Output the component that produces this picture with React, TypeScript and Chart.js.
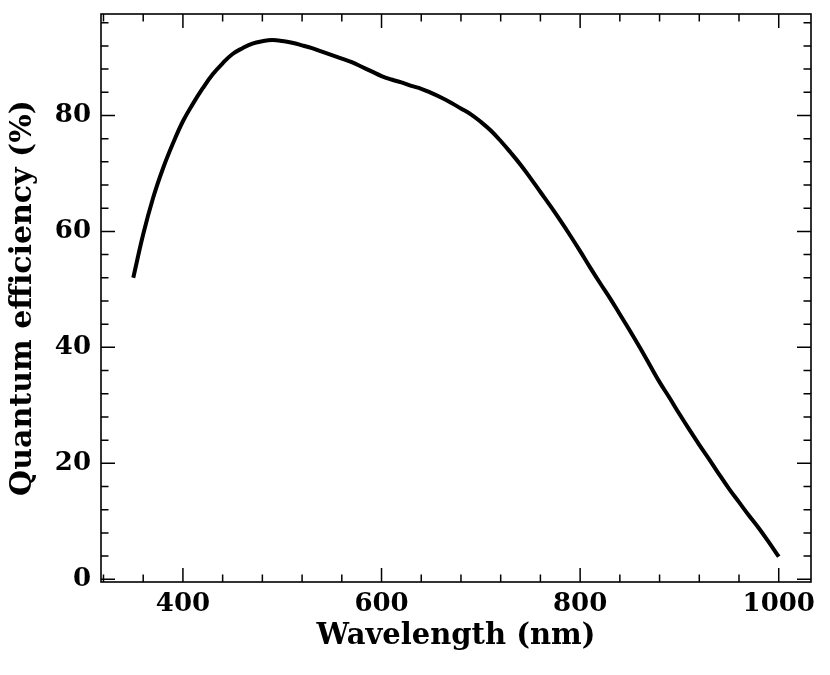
import React, { useEffect, useRef } from "react";
import { Chart, registerables } from "chart.js";

Chart.register(...registerables);

// Data (every 10 nm)
const wavelengths = [
  350, 360, 370, 380, 390, 400, 410, 420, 430, 440, 450, 460, 470, 480, 490, 500, 510, 520, 530, 540,
  550, 560, 570, 580, 590, 600, 610, 620, 630, 640, 650, 660, 670, 680, 690, 700, 710, 720, 730, 740,
  750, 760, 770, 780, 790, 800, 810, 820, 830, 840, 850, 860, 870, 880, 890, 900, 910, 920, 930, 940,
  950, 960, 970, 980, 990, 1000,
];
const efficiency = [
  52.0, 59.5, 65.8, 70.9, 75.2, 79.0, 82.0, 84.7, 87.1, 89.0, 90.6, 91.6, 92.4, 92.8, 93.0, 92.85, 92.55, 92.1, 91.6, 91.0,
  90.4, 89.8, 89.2, 88.4, 87.6, 86.8, 86.2, 85.7, 85.1, 84.6, 83.9, 83.1, 82.2, 81.2, 80.2, 78.9, 77.4, 75.6, 73.6, 71.5,
  69.2, 66.8, 64.4, 61.9, 59.3, 56.6, 53.8, 51.1, 48.5, 45.7, 42.9, 40.0, 37.0, 34.0, 31.3, 28.5, 25.8, 23.2, 20.7, 18.1,
  15.6, 13.3, 11.0, 8.8, 6.4, 3.9,
];

const xMajorTicks = [400, 600, 800, 1000];
const yMajorTicks = [0, 20, 40, 60, 80];
const xRange = [317.5, 1032.5];
const yRange = [-0.47, 97.5];
const xMinorStep = 40;
const yMinorStep = 4;

const FONT = "'DejaVu Serif', serif";

const framePlugin = {
  id: "frameTicks",
  afterDatasetsDraw(chart: any) {
    const { ctx, chartArea } = chart;
    const xs = chart.scales.x;
    const ys = chart.scales.y;
    const { left, right, top, bottom } = chartArea;
    ctx.save();
    ctx.strokeStyle = "#000";
    ctx.lineWidth = 1.6;
    ctx.strokeRect(left, top, right - left, bottom - top);
    ctx.lineWidth = 1.5;
    const major = 14;
    const minor = 7.5;
    const xStart = Math.ceil(xRange[0] / xMinorStep) * xMinorStep;
    for (let v = xStart; v <= xRange[1]; v += xMinorStep) {
      const px = xs.getPixelForValue(v);
      const len = xMajorTicks.includes(v) ? major : minor;
      ctx.beginPath();
      ctx.moveTo(px, bottom);
      ctx.lineTo(px, bottom - len);
      ctx.moveTo(px, top);
      ctx.lineTo(px, top + len);
      ctx.stroke();
    }
    const yStart = Math.ceil(yRange[0] / yMinorStep) * yMinorStep;
    for (let v = yStart; v <= yRange[1]; v += yMinorStep) {
      const py = ys.getPixelForValue(v);
      const len = yMajorTicks.includes(v) ? major : minor;
      ctx.beginPath();
      ctx.moveTo(left, py);
      ctx.lineTo(left + len, py);
      ctx.moveTo(right, py);
      ctx.lineTo(right - len, py);
      ctx.stroke();
    }
    ctx.restore();
  },
};

export default function App() {
  const ref = useRef<HTMLCanvasElement | null>(null);
  useEffect(() => {
    if (!ref.current) return;
    const chart = new Chart(ref.current, {
      type: "line",
      data: {
        datasets: [
          {
            data: wavelengths.map((w, i) => ({ x: w, y: efficiency[i] })),
            borderColor: "#000",
            borderWidth: 4,
            pointRadius: 0,
            fill: false,
            tension: 0.4,
          },
        ],
      },
      options: {
        animation: false,
        responsive: false,
        devicePixelRatio: 1,
        layout: { padding: { top: 14, right: 19, left: 0, bottom: 0 } },
        plugins: { legend: { display: false }, tooltip: { enabled: false } },
        scales: {
          x: {
            type: "linear",
            min: xRange[0],
            max: xRange[1],
            afterBuildTicks: (s: any) => {
              s.ticks = xMajorTicks.map((v) => ({ value: v }));
            },
            afterFit: (s: any) => {
              s.height = 93;
              s.paddingLeft = 0;
              s.paddingRight = 0;
            },
            grid: { display: false, drawTicks: false },
            border: { display: false },
            ticks: {
              color: "#000",
              padding: 7,
              maxRotation: 0,
              autoSkip: false,
              font: { family: FONT, weight: "bold", size: 26 },
              callback: (v: any) => String(v),
            },
            title: {
              display: true,
              text: "Wavelength (nm)",
              color: "#000",
              font: { family: FONT, weight: "bold", size: 29 },
              padding: { top: 0, bottom: 21 },
            },
          },
          y: {
            type: "linear",
            min: yRange[0],
            max: yRange[1],
            afterBuildTicks: (s: any) => {
              s.ticks = yMajorTicks.map((v) => ({ value: v }));
            },
            afterFit: (s: any) => {
              s.width = 101;
              s.paddingTop = 0;
              s.paddingBottom = 0;
            },
            grid: { display: false, drawTicks: false },
            border: { display: false },
            ticks: {
              color: "#000",
              padding: 10,
              autoSkip: false,
              font: { family: FONT, weight: "bold", size: 26 },
              callback: (v: any) => String(v),
            },
            title: {
              display: true,
              text: "Quantum efficiency (%)",
              color: "#000",
              font: { family: FONT, weight: "bold", size: 30 },
              padding: { top: 5, bottom: 0 },
            },
          },
        },
      },
      plugins: [framePlugin],
    });
    return () => chart.destroy();
  }, []);
  return (
    <div style={{ position: "absolute", left: 0, top: 0, width: 830, height: 675, background: "#fff" }}>
      <canvas ref={ref} width={830} height={675} style={{ display: "block" }} />
    </div>
  );
}
